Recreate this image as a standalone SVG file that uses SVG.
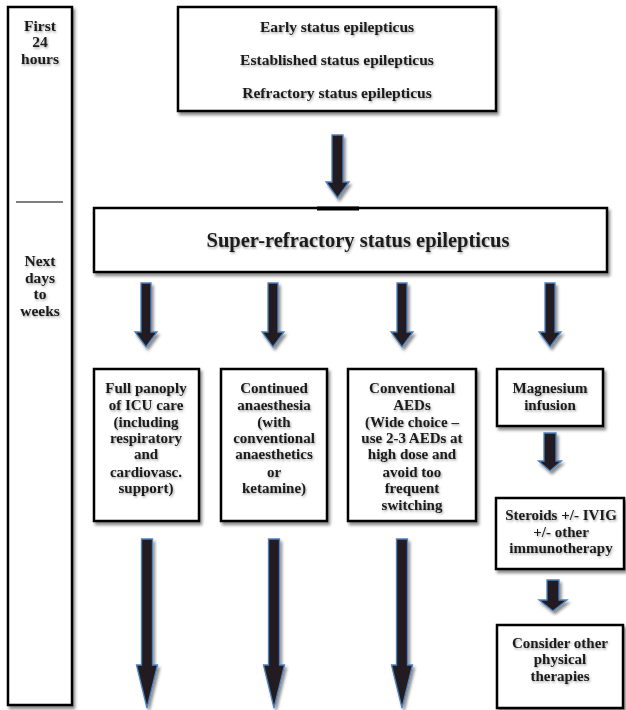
<svg xmlns="http://www.w3.org/2000/svg" width="626" height="710" viewBox="0 0 626 710">
<defs>
<filter id="sh" x="-10%" y="-10%" width="130%" height="130%"><feDropShadow dx="2" dy="3" stdDeviation="1.5" flood-color="#000" flood-opacity="0.45"/></filter>
<filter id="tsh" x="-10%" y="-30%" width="120%" height="160%"><feDropShadow dx="1" dy="1.5" stdDeviation="1" flood-color="#000" flood-opacity="0.35"/></filter>
</defs>
<style>
.box{fill:#fff;stroke:#000;stroke-width:2.5;filter:url(#sh)}
.arr{fill:#231f20;stroke:#4f81bd;stroke-width:1.3;filter:url(#sh)}
text{font-family:"Liberation Serif","DejaVu Serif",serif;font-weight:bold;fill:#1a1a1a;text-anchor:middle;filter:url(#tsh)}
.s13{font-size:15.5px}
.s14{font-size:15px}
.big{font-size:20.5px}
</style>
<rect width="626" height="710" fill="#fff"/>
<g id="timeline">
<rect class="box" x="8" y="7" width="64" height="698"/>
<line x1="16" y1="202" x2="63" y2="202" stroke="#000" stroke-width="1.2"/>
<text class="s13" x="40" y="31">First</text>
<text class="s13" x="40" y="47">24</text>
<text class="s13" x="40" y="64">hours</text>
<text class="s13" x="40" y="266">Next</text>
<text class="s13" x="40" y="283">days</text>
<text class="s13" x="40" y="299">to</text>
<text class="s13" x="40" y="316">weeks</text>
</g>
<g id="early">
<rect class="box" x="178" y="7" width="318" height="104"/>
<text class="s13" x="337" y="32">Early status epilepticus</text>
<text class="s13" x="337" y="65">Established status epilepticus</text>
<text class="s13" x="337" y="98">Refractory status epilepticus</text>
</g>
<g id="super">
<rect class="box" x="94" y="208" width="513" height="64"/>
<line x1="317" y1="208.5" x2="359" y2="208.5" stroke="#000" stroke-width="4"/>
<text class="big" x="358" y="247">Super-refractory status epilepticus</text>
</g>
<g id="icu">
<rect class="box" x="94" y="369" width="105" height="152"/>
<text class="s14" x="146" y="393">Full panoply</text>
<text class="s14" x="146" y="410">of ICU care</text>
<text class="s14" x="146" y="427">(including</text>
<text class="s14" x="146" y="443">respiratory</text>
<text class="s14" x="146" y="459">and</text>
<text class="s14" x="146" y="477">cardiovasc.</text>
<text class="s14" x="146" y="493">support)</text>
</g>
<g id="anaesthesia">
<rect class="box" x="221" y="369" width="106" height="152"/>
<text class="s14" x="274" y="393">Continued</text>
<text class="s14" x="274" y="410">anaesthesia</text>
<text class="s14" x="274" y="427">(with</text>
<text class="s14" x="274" y="443">conventional</text>
<text class="s14" x="274" y="459">anaesthetics</text>
<text class="s14" x="274" y="477">or</text>
<text class="s14" x="274" y="493">ketamine)</text>
</g>
<g id="aeds">
<rect class="box" x="348" y="369" width="128" height="152"/>
<text class="s14" x="412" y="393">Conventional</text>
<text class="s14" x="412" y="410">AEDs</text>
<text class="s14" x="412" y="427">(Wide choice –</text>
<text class="s14" x="412" y="443">use 2-3 AEDs at</text>
<text class="s14" x="412" y="459">high dose and</text>
<text class="s14" x="412" y="477">avoid too</text>
<text class="s14" x="412" y="493">frequent</text>
<text class="s14" x="412" y="510">switching</text>
</g>
<g id="magnesium">
<rect class="box" x="497" y="369" width="106" height="57"/>
<text class="s14" x="550" y="393">Magnesium</text>
<text class="s14" x="550" y="410">infusion</text>
</g>
<g id="steroids">
<rect class="box" x="496" y="498" width="128" height="71"/>
<text class="s14" x="561" y="520">Steroids +/- IVIG</text>
<text class="s14" x="561" y="537">+/- other</text>
<text class="s14" x="561" y="553">immunotherapy</text>
</g>
<g id="physical">
<rect class="box" x="497" y="625" width="126" height="83"/>
<text class="s14" x="560" y="648">Consider other</text>
<text class="s14" x="560" y="664">physical</text>
<text class="s14" x="560" y="681">therapies</text>
</g>
<g id="connectors">
<path class="arr" d="M332,135 H343 V182 H349 L337.5,198 L326,182 H332 Z"/>
<path class="arr" d="M141,283 H151 V332 H157 L146,347 L135,332 H141 Z"/>
<path class="arr" d="M268,283 H278 V332 H284 L273,347 L262,332 H268 Z"/>
<path class="arr" d="M397,283 H407 V332 H413 L402,347 L391,332 H397 Z"/>
<path class="arr" d="M545,283 H555 V332 H561 L550,347 L539,332 H545 Z"/>
<path class="arr" d="M544,433 H556 V461 H561.5 L550,471 L538.5,461 H544 Z"/>
<path class="arr" d="M547,580 H559 V600 H567 L553,611 L539,600 H547 Z"/>
<path class="arr" d="M141.5,539 H152.5 V665 H157.5 L147,708 L136.5,665 H141.5 Z"/>
<path class="arr" d="M268.5,539 H279.5 V665 H284.5 L274,708 L263.5,665 H268.5 Z"/>
<path class="arr" d="M396.5,539 H407.5 V665 H412.5 L402,708 L391.5,665 H396.5 Z"/>
</g>
</svg>
